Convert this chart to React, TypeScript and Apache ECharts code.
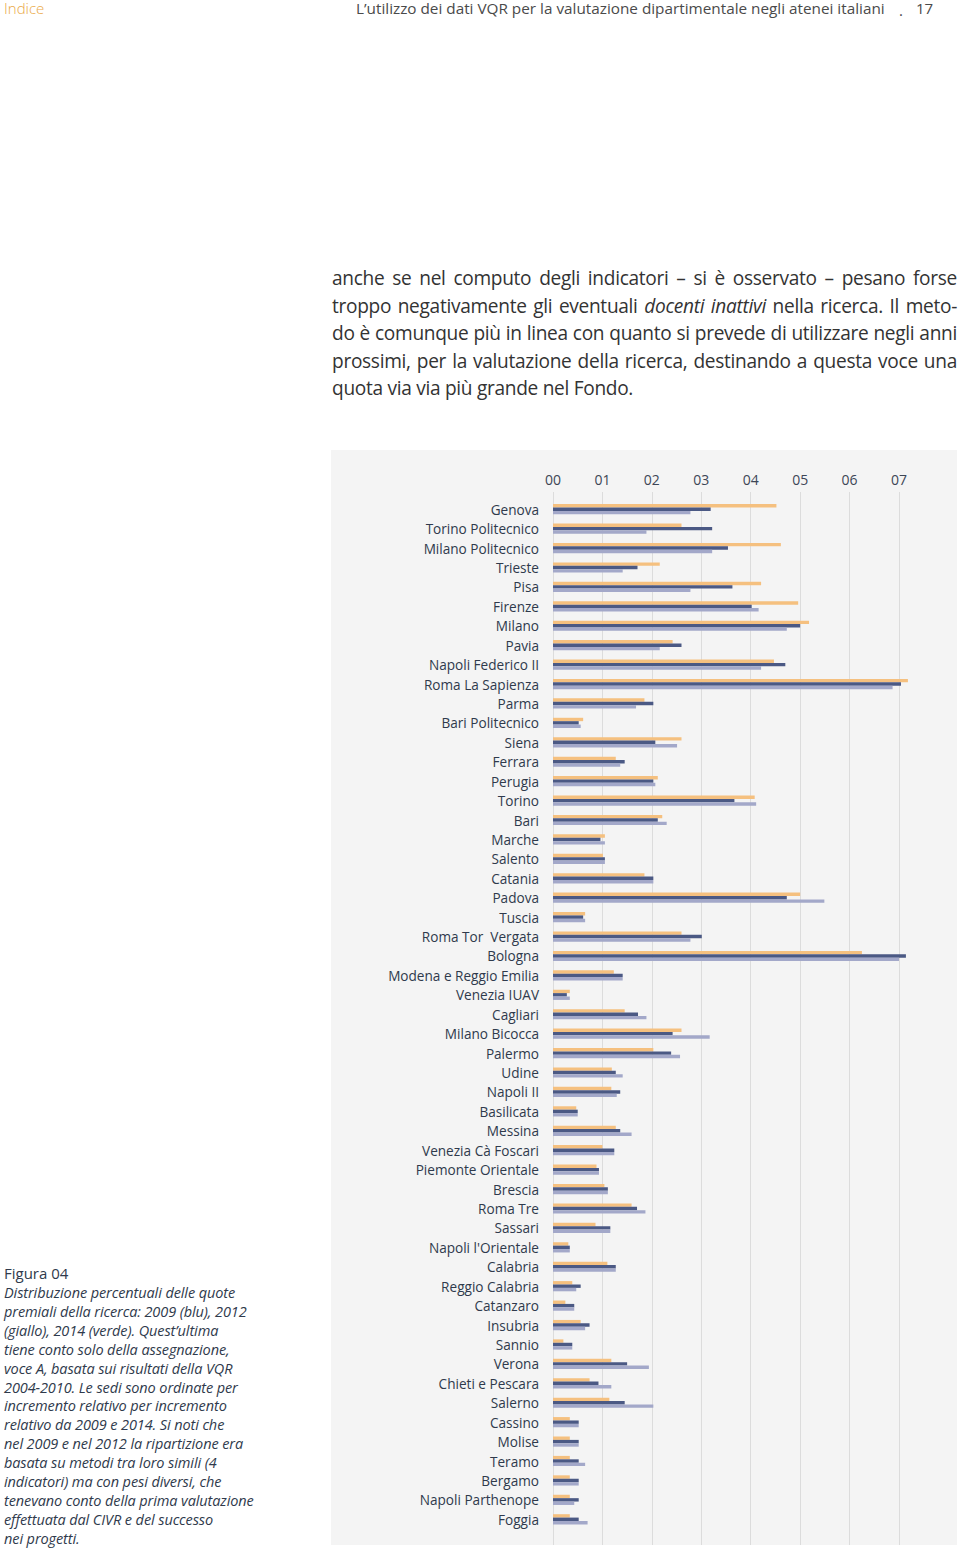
import React, { useEffect, useRef } from "react";
import * as echarts from "echarts";

const categories = [
  "Genova", "Torino Politecnico", "Milano Politecnico", "Trieste", "Pisa", "Firenze", "Milano", "Pavia",
  "Napoli Federico II", "Roma La Sapienza", "Parma", "Bari Politecnico", "Siena", "Ferrara", "Perugia",
  "Torino", "Bari", "Marche", "Salento", "Catania", "Padova", "Tuscia", "Roma Tor  Vergata", "Bologna",
  "Modena e Reggio Emilia", "Venezia IUAV", "Cagliari", "Milano Bicocca", "Palermo", "Udine", "Napoli II",
  "Basilicata", "Messina", "Venezia Cà Foscari", "Piemonte Orientale", "Brescia", "Roma Tre", "Sassari",
  "Napoli l'Orientale", "Calabria", "Reggio Calabria", "Catanzaro", "Insubria", "Sannio", "Verona",
  "Chieti e Pescara", "Salerno", "Cassino", "Molise", "Teramo", "Bergamo", "Napoli Parthenope", "Foggia",
];

const values2012 = [
  4.52, 2.6, 4.61, 2.16, 4.21, 4.96, 5.18, 2.42, 4.47, 7.18, 1.85, 0.61, 2.6, 1.27, 2.12, 4.08, 2.21, 1.05,
  1.01, 1.85, 5.0, 0.65, 2.6, 6.25, 1.23, 0.34, 1.45, 2.6, 2.03, 1.19, 1.18, 0.47, 1.27, 1.0, 0.88, 1.04,
  1.59, 0.86, 0.31, 1.1, 0.39, 0.25, 0.56, 0.21, 1.18, 0.74, 1.14, 0.34, 0.34, 0.34, 0.34, 0.34, 0.34,
];
const values2009 = [
  3.19, 3.22, 3.54, 1.71, 3.63, 4.02, 5.0, 2.6, 4.7, 7.04, 2.03, 0.52, 2.07, 1.45, 2.03, 3.67, 2.12, 0.96,
  1.05, 2.03, 4.73, 0.61, 3.01, 7.14, 1.41, 0.28, 1.72, 2.42, 2.39, 1.27, 1.36, 0.5, 1.36, 1.24, 0.93, 1.11,
  1.7, 1.16, 0.34, 1.27, 0.56, 0.43, 0.74, 0.39, 1.5, 0.92, 1.45, 0.52, 0.52, 0.52, 0.52, 0.52, 0.52,
];
const values2014 = [
  2.78, 1.89, 3.22, 1.41, 2.78, 4.16, 4.73, 2.16, 4.21, 6.87, 1.68, 0.56, 2.51, 1.36, 2.07, 4.11, 2.3, 1.05,
  1.05, 2.03, 5.49, 0.65, 2.78, 7.0, 1.41, 0.34, 1.89, 3.17, 2.57, 1.41, 1.29, 0.5, 1.59, 1.24, 0.93, 1.11,
  1.87, 1.16, 0.34, 1.27, 0.47, 0.43, 0.65, 0.39, 1.94, 1.18, 2.03, 0.52, 0.52, 0.65, 0.52, 0.43, 0.7,
];

const tickMin = 0;
const tickMax = 7;

const paragraphLines = [
  ["anche se nel computo degli indicatori – si è osservato – pesano forse"],
  ["troppo negativamente gli eventuali ", "docenti inattivi", " nella ricerca. Il meto-"],
  ["do è comunque più in linea con quanto si prevede di utilizzare negli anni"],
  ["prossimi, per la valutazione della ricerca, destinando a questa voce una"],
  ["quota via via più grande nel Fondo."],
];

const captionLines = [
  "Distribuzione percentuali delle quote",
  "premiali della ricerca: 2009 (blu), 2012",
  "(giallo), 2014 (verde). Quest’ultima",
  "tiene conto solo della assegnazione,",
  "voce A, basata sui risultati della VQR",
  "2004-2010. Le sedi sono ordinate per",
  "incremento relativo per incremento",
  "relativo da 2009 e 2014. Si noti che",
  "nel 2009 e nel 2012 la ripartizione era",
  "basata su metodi tra loro simili (4",
  "indicatori) ma con pesi diversi, che",
  "tenevano conto della prima valutazione",
  "effettuata dal CIVR e del successo",
  "nei progetti.",
];

const FONT = "'Open Sans', 'Noto Sans', sans-serif";

function Chart() {
  const ref = useRef<HTMLDivElement>(null);
  useEffect(() => {
    if (!ref.current) return;
    const chart = echarts.init(ref.current, undefined, { renderer: "svg" });
    const barBase = { type: "bar", xAxisIndex: 1, yAxisIndex: 1, barWidth: 3.4, barGap: "0%", clip: false };
    chart.setOption({
      animation: false,
      backgroundColor: "#f4f4f4",
      textStyle: { fontFamily: FONT },
      grid: [
        { left: 222, top: 42, width: 346, height: 1053, containLabel: false },
        { left: 222, top: 49.5, width: 346, height: 1029.5, containLabel: false },
      ],
      xAxis: [
        {
          type: "value",
          gridIndex: 0,
          position: "top",
          min: tickMin,
          max: tickMax,
          interval: 1,
          axisLine: { show: true, lineStyle: { color: "#e2e2e2", width: 1 } },
          axisTick: { show: false },
          splitLine: { show: true, lineStyle: { color: "#dcdcdc", width: 1 } },
          axisLabel: {
            margin: 6,
            fontSize: 14,
            color: "#3d4656",
            fontFamily: FONT,
            formatter: (v: number) => (v < 10 ? "0" : "") + v,
          },
        },
        { type: "value", gridIndex: 1, min: tickMin, max: tickMax, show: false },
      ],
      yAxis: [
        { type: "value", gridIndex: 0, min: 0, max: 1, show: false },
        {
          type: "category",
          gridIndex: 1,
          data: categories,
          inverse: true,
          axisLine: { show: false },
          axisTick: { show: false },
          splitLine: { show: false },
          axisLabel: { margin: 14, fontSize: 13.6, color: "#2f3a4c", fontFamily: FONT },
        },
      ],
      series: [
        { ...barBase, name: "2012", data: values2012, itemStyle: { color: "#f5c07f" } },
        { ...barBase, name: "2009", data: values2009, itemStyle: { color: "#4b5984" } },
        { ...barBase, name: "2014", data: values2014, itemStyle: { color: "#a3a8c9" } },
      ],
    });
    return () => chart.dispose();
  }, []);
  return (
    <div
      ref={ref}
      style={{ position: "absolute", left: 331, top: 450, width: 626, height: 1095 }}
    />
  );
}

export default function App() {
  return (
    <div style={{ position: "absolute", left: 0, top: 0, width: 960, height: 1549, background: "#fff", fontFamily: FONT }}>
      <div style={{ position: "absolute", left: 4, top: -2, fontSize: 15, color: "#eaa948", fontWeight: 300 }}>Indice</div>
      <div style={{ position: "absolute", left: 356, top: -2, fontSize: 15.3, color: "#4a4a4a", whiteSpace: "nowrap" }}>
        L’utilizzo dei dati VQR per la valutazione dipartimentale negli atenei italiani
      </div>
      <div style={{ position: "absolute", left: 899, top: 0, fontSize: 15, lineHeight: "20px", color: "#4a4a4a" }}>.</div>
      <div style={{ position: "absolute", left: 916, top: -2, fontSize: 15, color: "#4a4a4a" }}>17</div>

      {paragraphLines.map((parts, i) => (
        <div
          key={i}
          style={{
            position: "absolute",
            left: 332,
            top: 265 + i * 27.5,
            width: 625,
            fontSize: 19.1,
            lineHeight: "27px",
            color: "#333",
            whiteSpace: "nowrap",
            textAlign: "justify",
            textAlignLast: i < paragraphLines.length - 1 ? "justify" : "left",
            letterSpacing: -0.3,
            wordSpacing: i === 1 ? -2 : 0,
          }}
        >
          {parts.map((p, j) =>
            j === 1 ? <i key={j}>{p}</i> : <span key={j}>{p}</span>
          )}
        </div>
      ))}

      <Chart />

      <div style={{ position: "absolute", left: 4, top: 1264, fontSize: 15, color: "#2f3a4c", lineHeight: "19px" }}>
        Figura 04
      </div>
      {captionLines.map((l, i) => (
        <div
          key={i}
          style={{
            position: "absolute",
            left: 4,
            top: 1283 + i * 18.9,
            fontSize: 14.5,
            fontStyle: "italic",
            color: "#2f3a4c",
            lineHeight: "19px",
            whiteSpace: "nowrap",
            letterSpacing: -0.1,
          }}
        >
          {l}
        </div>
      ))}
    </div>
  );
}
